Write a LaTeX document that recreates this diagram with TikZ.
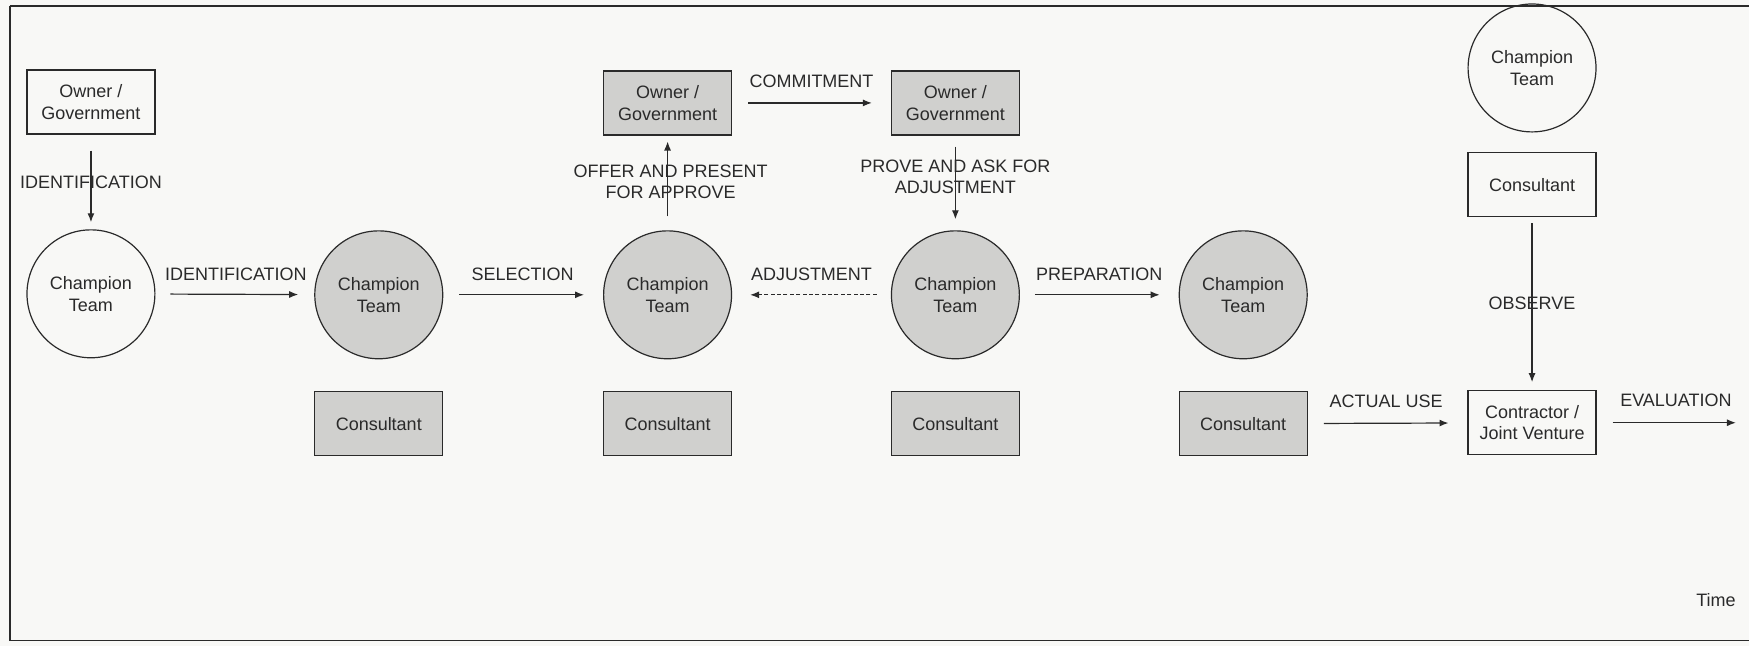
\documentclass[tikz,border=0pt]{standalone}
\usepackage{fontspec}
\setmainfont{Liberation Sans}
\usetikzlibrary{arrows.meta}

\definecolor{paper}{RGB}{248,248,246}
\definecolor{shade}{RGB}{208,208,206}
\definecolor{ink}{RGB}{42,42,42}

\tikzset{
  base/.style={draw=ink, line width=0.6pt, text=ink, align=center,
    font=\fontsize{9}{10.8}\selectfont, inner sep=0pt},
  party/.style={base, rectangle, minimum width=64pt, minimum height=32pt},
  team/.style={base, circle, minimum size=64pt},
  filled/.style={fill=shade},
  flow/.style={draw=ink, line width=0.6pt,
    -{Latex[length=4.5pt,width=3.5pt]}},
  back/.style={flow, dashed, dash pattern=on 2pt off 1.2pt},
  lbl/.style={text=ink, font=\fontsize{9}{10.8}\selectfont, align=center,
    inner sep=0pt}
}

\begin{document}
\begin{tikzpicture}[x=0.5pt, y=-0.5pt]
  % page and frame
  \fill[paper] (0,0) rectangle (1750,646);
  \draw[ink, line width=0.7pt] (10,6) -- (10,641);
  \draw[ink, line width=1.1pt] (10,6) -- (1750,6);
  \draw[ink, line width=0.9pt] (10,641) -- (1750,641);

  % stage 1: identification
  \node[party] (own1) at (91,102) {Owner /\\Government};
  \node[team] (ct1) at (91,294) {Champion\\Team};

  % stage 2
  \node[team, filled] (ct2) at (379,295) {Champion\\Team};
  \node[party, filled] (con2) at (379,424) {Consultant};

  % stage 3
  \node[party, filled] (own3) at (668,103) {Owner /\\Government};
  \node[team, filled] (ct3) at (668,295) {Champion\\Team};
  \node[party, filled] (con3) at (668,424) {Consultant};

  % stage 4
  \node[party, filled] (own4) at (956,103) {Owner /\\Government};
  \node[team, filled] (ct4) at (956,295) {Champion\\Team};
  \node[party, filled] (con4) at (956,424) {Consultant};

  % stage 5
  \node[team, filled] (ct5) at (1244,295) {Champion\\Team};
  \node[party, filled] (con5) at (1244,424) {Consultant};

  % stage 6: construction
  \node[team] (ct6) at (1533,68) {Champion\\Team};
  \node[party] (con6) at (1533,185) {Consultant};
  \node[party] (cjv) at (1533,423) {Contractor /\\Joint Venture};
  \coordinate (evalend) at (1737,423);

  % connectors
  \draw[flow, shorten <=8pt, shorten >=3.5pt] (own1) -- (ct1);
  \draw[flow, shorten <=7.5pt, shorten >=8pt] (ct1) -- (ct2);
  \draw[flow, shorten <=8pt, shorten >=9.5pt] (ct2) -- (ct3);
  \draw[flow, shorten <=7pt, shorten >=3pt] (ct3) -- (own3);
  \draw[flow, shorten <=8pt, shorten >=9.5pt] (own3) -- (own4);
  \draw[flow, shorten <=5.5pt, shorten >=5.5pt] (own4) -- (ct4);
  \draw[back, shorten <=7pt, shorten >=9pt] (ct4) -- (ct3);
  \draw[flow, shorten <=7.5pt, shorten >=9.5pt] (ct4) -- (ct5);
  \draw[flow, shorten <=8pt, shorten >=9.5pt] (con5) -- (cjv);
  \draw[flow, shorten <=3pt, shorten >=4pt] (con6) -- (cjv);
  \draw[flow, shorten <=8pt] (cjv) -- (evalend);

  % connector labels
  \node[lbl] (l1) at (91,182) {IDENTIFICATION};
  \node[lbl] (l2) at (236,274) {IDENTIFICATION};
  \node[lbl] (l3) at (523,274) {SELECTION};
  \node[lbl] (l4) at (671,182) {OFFER AND PRESENT\\FOR APPROVE};
  \node[lbl] (l5) at (812,81) {COMMITMENT};
  \node[lbl] (l6) at (956,177) {PROVE AND ASK FOR\\ADJUSTMENT};
  \node[lbl] (l7) at (812,274) {ADJUSTMENT};
  \node[lbl] (l8) at (1100,274) {PREPARATION};
  \node[lbl] (l9) at (1387,402) {ACTUAL USE};
  \node[lbl] (l10) at (1533,303) {OBSERVE};
  \node[lbl] (l11) at (1677,401) {EVALUATION};
  \node[lbl] (time) at (1717,600) {Time};
\end{tikzpicture}
\end{document}
